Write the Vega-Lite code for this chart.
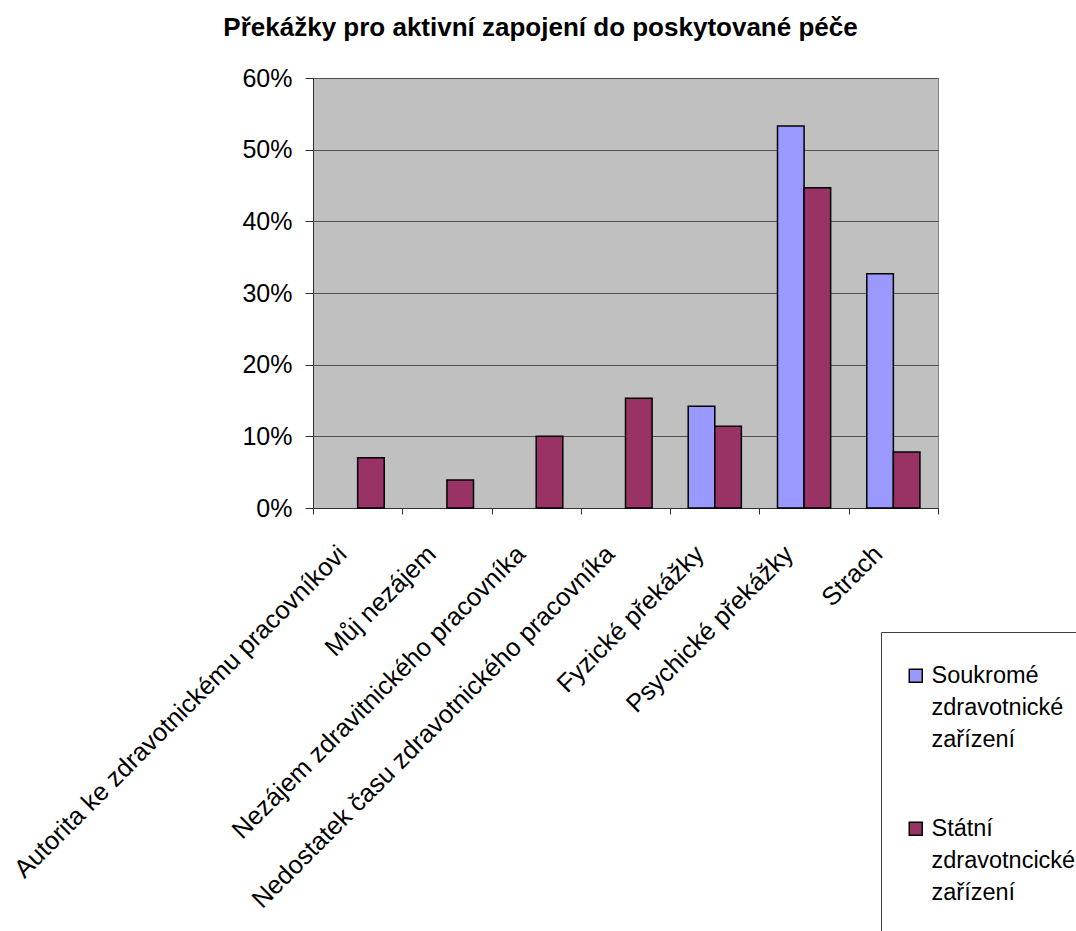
{
  "$schema": "https://vega.github.io/schema/vega-lite/v6.json",
  "width": 625,
  "height": 430,
  "autosize": "none",
  "padding": {"left": 313, "top": 78, "right": 138, "bottom": 423},
  "background": "white",
  "title": {
    "text": "Překážky pro aktivní zapojení do poskytované péče",
    "font": "Liberation Sans",
    "fontSize": 26,
    "fontWeight": "bold",
    "color": "black",
    "anchor": "middle",
    "dx": -85,
    "offset": 25
  },
  "data": {
    "values": [
      {"prekazka": "Autorita ke zdravotnickému pracovníkovi", "zarizeni": "Státní zdravotncické zařízení", "podil": 0.070},
      {"prekazka": "Můj nezájem", "zarizeni": "Státní zdravotncické zařízení", "podil": 0.039},
      {"prekazka": "Nezájem zdravitnického pracovníka", "zarizeni": "Státní zdravotncické zařízení", "podil": 0.100},
      {"prekazka": "Nedostatek času zdravotnického pracovníka", "zarizeni": "Státní zdravotncické zařízení", "podil": 0.153},
      {"prekazka": "Fyzické překážky", "zarizeni": "Soukromé zdravotnické zařízení", "podil": 0.142},
      {"prekazka": "Fyzické překážky", "zarizeni": "Státní zdravotncické zařízení", "podil": 0.114},
      {"prekazka": "Psychické překážky", "zarizeni": "Soukromé zdravotnické zařízení", "podil": 0.533},
      {"prekazka": "Psychické překážky", "zarizeni": "Státní zdravotncické zařízení", "podil": 0.447},
      {"prekazka": "Strach", "zarizeni": "Soukromé zdravotnické zařízení", "podil": 0.327},
      {"prekazka": "Strach", "zarizeni": "Státní zdravotncické zařízení", "podil": 0.078}
    ]
  },
  "mark": {"type": "bar", "stroke": "black", "strokeWidth": 1.5},
  "encoding": {
    "x": {
      "field": "prekazka",
      "type": "nominal",
      "sort": null,
      "title": null,
      "scale": {"paddingInner": 0, "paddingOuter": 0},
      "axis": {
        "tickBand": "extent",
        "labelAngle": -45,
        "labelFont": "Liberation Sans",
        "labelFontSize": 25.5,
        "labelColor": "black",
        "labelLimit": 600,
        "labelPadding": 27,
        "labelOffset": -24,
        "tickSize": 6,
        "tickColor": "#303030",
        "domainColor": "#303030",
        "grid": false
      }
    },
    "xOffset": {
      "field": "zarizeni",
      "sort": ["Soukromé zdravotnické zařízení", "Státní zdravotncické zařízení"],
      "scale": {"paddingInner": 0, "paddingOuter": 0.68}
    },
    "y": {
      "field": "podil",
      "type": "quantitative",
      "title": null,
      "scale": {"domain": [0, 0.6], "nice": false},
      "axis": {
        "values": [0, 0.1, 0.2, 0.3, 0.4, 0.5, 0.6],
        "format": ".0%",
        "labelFont": "Liberation Sans",
        "labelFontSize": 25,
        "labelColor": "black",
        "labelPadding": 13,
        "tickSize": 8,
        "tickColor": "#303030",
        "domainColor": "#303030",
        "gridColor": "#505050",
        "gridOpacity": 1
      }
    },
    "color": {
      "field": "zarizeni",
      "type": "nominal",
      "scale": {
        "domain": ["Soukromé zdravotnické zařízení", "Státní zdravotncické zařízení"],
        "range": ["#9999FF", "#993366"]
      },
      "legend": {
        "title": " ",
        "titleFontSize": 5,
        "titlePadding": 4,
        "orient": "none",
        "legendX": 568,
        "legendY": 554,
        "padding": 23,
        "fillColor": "white",
        "strokeColor": "#404040",
        "symbolType": "square",
        "symbolSize": 169,
        "symbolStrokeColor": "black",
        "symbolStrokeWidth": 1.5,
        "labelFont": "Liberation Sans",
        "labelFontSize": 23.5,
        "labelColor": "black",
        "labelLimit": 400,
        "labelOffset": 4,
        "labelBaseline": "middle",
        "labelExpr": "split(datum.label + ' ', ' ')",
        "rowPadding": 32
      }
    }
  },
  "config": {
    "view": {"fill": "#C0C0C0", "stroke": "#808080"},
    "style": {"guide-label": {"lineHeight": 32}}
  }
}
